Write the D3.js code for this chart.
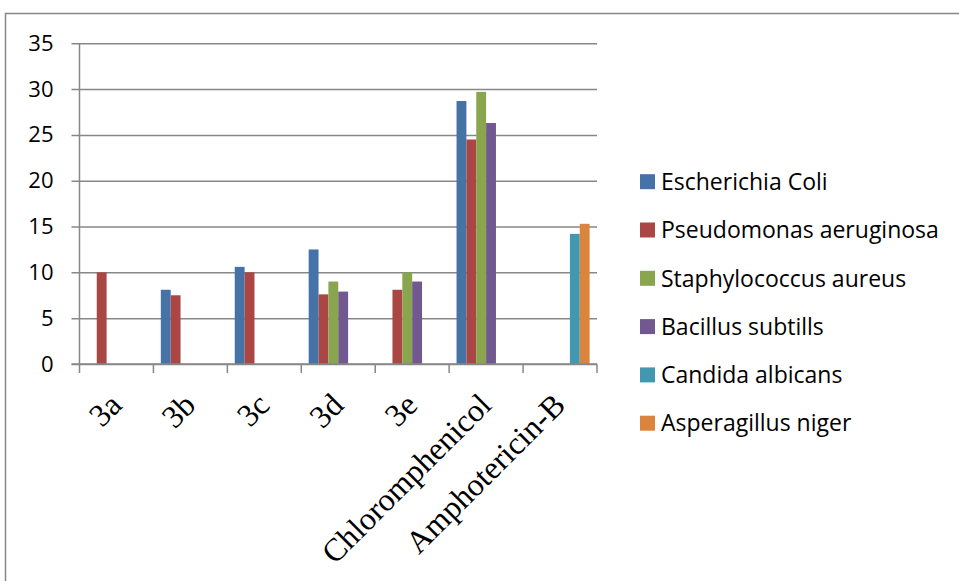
<!DOCTYPE html>
<html>
<head>
<meta charset="utf-8">
<script src="https://cdn.jsdelivr.net/npm/d3@7/dist/d3.min.js"></script>
<style>
  html, body { margin: 0; padding: 0; background: #ffffff; }
  svg { display: block; }
</style>
</head>
<body>
<svg id="chart" width="959" height="581"></svg>
<script>
// ---- data ----
const categories = ["3a", "3b", "3c", "3d", "3e", "Chloromphenicol", "Amphotericin-B"];
const seriesNames = ["Escherichia Coli", "Pseudomonas aeruginosa", "Staphylococcus aureus", "Bacillus subtills", "Candida albicans", "Asperagillus niger"];
const escherichiaColi      = [null, 8.1, 10.6, 12.5, null, 28.7, null];
const pseudomonasAeruginosa = [10, 7.5, 10, 7.6, 8.1, 24.5, null];
const staphylococcusAureus = [null, null, null, 9, 10, 29.7, null];
const bacillusSubtills     = [null, null, null, 7.9, 9, 26.3, null];
const candidaAlbicans      = [null, null, null, null, null, null, 14.2];
const asperagillusNiger    = [null, null, null, null, null, null, 15.3];
const yTicks = [0, 5, 10, 15, 20, 25, 30, 35];
const colors = ["#4572A7", "#AA4643", "#89A54E", "#71588F", "#4198AF", "#DB843D"];

const seriesValues = [escherichiaColi, pseudomonasAeruginosa, staphylococcusAureus, bacillusSubtills, candidaAlbicans, asperagillusNiger];

const svg = d3.select("#chart");
const gridColor = "#878787";

// outer frame
svg.append("rect")
  .attr("x", 5.5).attr("y", 13.5)
  .attr("width", 1000).attr("height", 1000)
  .attr("fill", "none").attr("stroke", gridColor).attr("stroke-width", 1.5);

const plot = { left: 79.5, right: 597, top: 43.3, bottom: 364 };

const x0 = d3.scaleBand().domain(categories).range([plot.left, plot.right]).padding(0);
const bw = x0.bandwidth();
const gap = bw * 1.5 / 7.5;
const x1 = d3.scaleBand().domain(seriesNames).range([gap / 2, bw - gap / 2]).padding(0);
const y = d3.scaleLinear().domain([0, 35]).range([plot.bottom, plot.top]);

// y axis with gridlines
const yAxis = d3.axisLeft(y)
  .tickValues(yTicks)
  .tickSizeInner(-(plot.right - plot.left))
  .tickSizeOuter(0)
  .tickPadding(26);

const gy = svg.append("g")
  .attr("transform", `translate(${plot.left},0)`)
  .call(yAxis);
gy.select(".domain").remove();
gy.selectAll(".tick line")
  .attr("x1", -8)
  .attr("stroke", gridColor)
  .attr("stroke-width", 1.5);
gy.selectAll(".tick text")
  .attr("font-family", "'Open Sans', 'Noto Sans', sans-serif")
  .attr("font-size", 22)
  .attr("fill", "#000");

// bars
const barData = [];
seriesValues.forEach((vals, si) => {
  vals.forEach((v, ci) => {
    if (v !== null) barData.push({ cat: categories[ci], series: seriesNames[si], value: v, color: colors[si] });
  });
});

svg.append("g").selectAll("rect")
  .data(barData)
  .join("rect")
  .attr("x", d => x0(d.cat) + x1(d.series))
  .attr("y", d => y(d.value))
  .attr("width", x1.bandwidth())
  .attr("height", d => y(0) - y(d.value))
  .attr("fill", d => d.color);

// y axis line
svg.append("line")
  .attr("x1", plot.left).attr("x2", plot.left)
  .attr("y1", plot.top).attr("y2", plot.bottom)
  .attr("stroke", gridColor).attr("stroke-width", 1.5);

// x axis
const xAxis = d3.axisBottom(x0).tickSize(0).tickPadding(0);
const gx = svg.append("g")
  .attr("transform", `translate(0,${plot.bottom})`)
  .call(xAxis);
gx.select(".domain").remove();
gx.selectAll(".tick text")
  .attr("font-family", "'Liberation Serif', 'Times New Roman', serif")
  .attr("font-size", 32)
  .attr("fill", "#000")
  .attr("y", 0).attr("dy", 0)
  .attr("text-anchor", "end")
  .attr("transform", "translate(7,43) rotate(-45)");

svg.append("line")
  .attr("x1", plot.left - 8).attr("x2", plot.right)
  .attr("y1", plot.bottom).attr("y2", plot.bottom)
  .attr("stroke", gridColor).attr("stroke-width", 1.5);

const boundaries = categories.map(c => x0(c)).concat([plot.right]);
svg.append("g").selectAll("line")
  .data(boundaries)
  .join("line")
  .attr("x1", d => d).attr("x2", d => d)
  .attr("y1", plot.bottom).attr("y2", plot.bottom + 9)
  .attr("stroke", gridColor).attr("stroke-width", 1.5);

// legend
const legend = svg.append("g");
const rows = legend.selectAll("g")
  .data(seriesNames)
  .join("g")
  .attr("transform", (d, i) => `translate(640,${181.7 + i * 48.3})`);
rows.append("rect")
  .attr("x", 0).attr("y", -7.5)
  .attr("width", 15).attr("height", 15)
  .attr("fill", (d, i) => colors[i]);
rows.append("text")
  .attr("x", 21).attr("y", 0).attr("dy", "0.36em")
  .attr("font-family", "'Open Sans', 'Noto Sans', sans-serif")
  .attr("font-size", 23)
  .attr("fill", "#000")
  .text(d => d);
</script>
</body>
</html>
